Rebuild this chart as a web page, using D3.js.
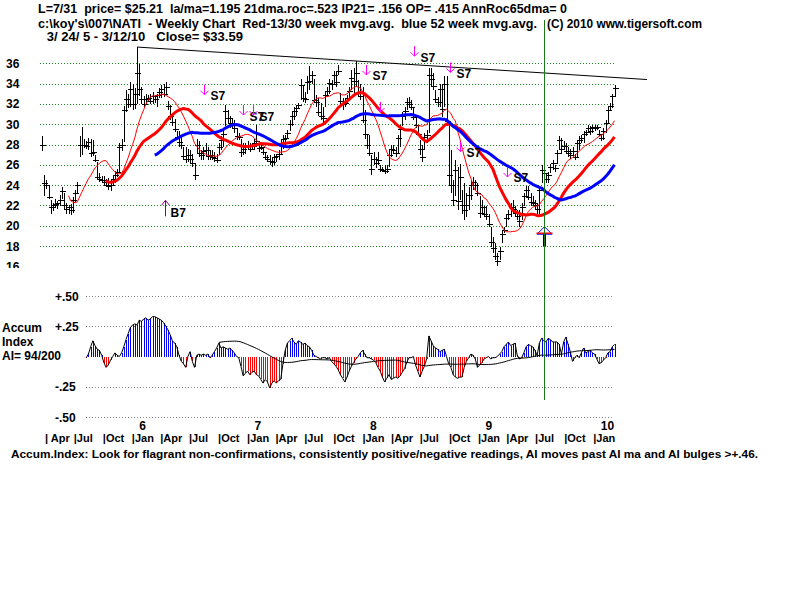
<!DOCTYPE html>
<html>
<head>
<meta charset="utf-8">
<script src="https://cdn.jsdelivr.net/npm/d3@7"></script>
<style>
  body { margin: 0; background: #fff; }
  svg { display: block; }
  text { font-family: "Liberation Sans", Arial, sans-serif; font-weight: bold; fill: #000; white-space: pre; }
</style>
</head>
<body>
<svg id="chart" width="800" height="600"></svg>
<script>
// weekly bars, first week 3/24/05, last 3/12/10
const startDate = "2005-03-24";

const highs = [
  28.8,25.0,24.5,23.9,22.5,22.2,22.6,22.4,23.0,23.8,
  23.2,22.2,22.0,22.1,22.8,23.5,24.3,28.8,29.7,28.5,
  28.3,28.6,28.5,28.4,27.0,26.3,25.2,24.9,24.9,24.6,
  24.7,24.5,25.0,25.4,25.6,28.1,28.5,31.8,33.4,33.0,
  34.2,34.0,33.6,37.6,35.9,33.7,32.8,33.0,32.9,33.0,
  33.2,32.9,33.0,33.6,33.9,34.0,34.2,32.3,31.9,30.8,
  30.5,29.3,29.3,28.7,27.8,27.8,27.6,27.5,27.1,26.2,
  28.5,28.3,27.5,27.8,28.1,27.8,27.5,27.5,27.3,27.1,
  28.1,28.8,29.4,31.9,31.4,30.8,30.6,30.4,29.6,29.1,
  28.5,28.1,28.1,28.3,28.1,28.1,28.5,29.9,28.1,28.1,
  27.8,27.3,27.0,27.0,26.8,27.1,27.1,27.5,28.5,28.9,
  28.9,29.4,30.4,31.2,31.7,31.9,32.1,34.5,33.9,33.2,
  34.7,35.7,35.2,34.5,32.9,32.6,32.1,31.7,33.2,33.7,
  34.5,34.4,35.2,35.2,35.8,33.1,32.6,32.5,32.9,33.7,
  35.3,35.5,36.2,34.4,34.0,33.7,31.4,28.9,28.9,27.0,
  27.3,26.8,27.3,26.0,25.8,26.0,26.0,27.5,28.0,28.0,
  27.8,28.9,29.9,31.2,31.7,32.6,32.7,32.4,31.6,30.9,
  29.9,28.4,28.0,29.1,29.4,35.5,35.5,35.0,33.4,32.7,
  34.0,34.0,34.7,34.7,30.1,27.5,24.5,26.5,25.8,26.1,
  23.5,24.2,23.2,23.8,24.5,24.8,24.5,24.2,22.9,22.5,
  21.9,21.9,21.2,19.9,18.9,18.3,17.3,17.9,19.6,19.9,
  21.2,21.5,22.2,22.5,21.9,21.5,21.5,22.2,23.2,23.9,
  23.9,23.2,22.9,22.5,22.2,23.9,26.0,25.8,25.2,25.3,
  26.1,26.5,26.0,27.5,28.8,28.6,28.3,28.1,27.8,27.6,
  27.8,27.1,28.4,28.8,28.9,29.3,29.4,29.9,29.8,29.9,
  29.9,29.9,29.4,28.9,29.6,30.4,31.7,32.1,33.0,33.9
];
const lows = [
  27.4,22.9,23.6,22.6,21.2,21.4,21.7,21.6,21.9,22.6,
  21.6,21.2,21.2,21.1,21.3,22.3,23.2,26.8,27.0,27.7,
  27.6,27.5,26.8,26.9,26.3,24.5,24.3,24.2,24.0,23.8,
  23.5,23.4,23.9,24.2,24.8,25.3,27.4,28.2,31.2,31.6,
  31.7,31.4,31.5,32.0,32.8,32.0,31.6,32.0,32.2,32.0,
  32.0,32.1,31.7,32.6,32.6,32.7,32.9,31.4,30.4,29.8,
  29.2,28.4,27.8,27.6,26.5,26.2,26.3,26.2,25.8,24.5,
  27.1,26.8,26.5,26.5,26.8,26.5,26.5,26.5,26.3,26.2,
  27.0,27.5,27.8,29.8,30.1,29.6,29.5,29.1,28.4,28.4,
  26.8,27.0,27.1,27.5,27.3,27.5,27.5,27.8,27.3,27.5,
  27.0,26.5,26.3,26.0,25.8,26.0,26.3,26.5,27.1,27.6,
  27.8,28.5,29.3,29.8,30.4,30.8,31.6,32.4,32.2,32.1,
  33.0,33.4,34.0,32.1,31.7,30.8,30.4,30.1,31.7,32.7,
  33.0,33.4,34.0,33.7,34.8,31.9,31.4,31.7,32.1,32.4,
  33.4,33.0,33.7,32.7,32.4,30.1,28.5,27.6,26.9,25.0,
  26.0,25.7,26.0,25.3,25.3,25.1,25.2,25.8,26.8,27.1,
  26.8,27.1,27.8,29.8,30.4,31.4,31.6,31.4,30.4,29.6,
  28.8,27.0,26.3,27.5,28.1,29.1,33.7,33.4,32.1,31.7,
  31.7,30.7,31.7,29.8,23.9,23.2,21.9,22.9,21.5,22.5,
  21.2,20.6,20.9,21.5,22.5,23.5,23.5,22.9,20.8,21.1,
  20.9,20.6,19.9,17.9,17.3,16.6,16.0,16.6,18.3,19.3,
  19.9,20.6,20.9,21.2,20.9,20.6,19.9,20.6,21.9,22.9,
  22.5,21.9,21.9,21.6,21.2,21.2,24.2,24.5,24.2,24.2,
  25.2,25.5,25.3,26.1,27.5,27.1,27.5,27.1,26.8,26.6,
  27.0,26.5,26.8,27.5,28.1,28.1,28.8,29.1,28.9,29.1,
  29.3,29.4,28.8,28.3,28.4,29.1,30.1,31.4,31.6,32.7
];
const closes = [
  28.0,24.2,24.0,22.8,21.8,22.0,22.1,22.2,22.5,23.4,
  22.0,21.6,21.8,21.5,22.5,23.2,24.0,28.0,28.0,28.0,
  27.9,28.2,27.2,27.3,26.5,24.8,24.6,24.5,24.3,24.0,
  23.9,24.0,24.6,25.0,25.3,27.8,28.0,31.4,32.5,32.0,
  33.5,32.0,33.0,35.0,33.5,32.5,32.0,32.5,32.6,32.3,
  32.8,32.5,32.9,33.2,33.5,33.0,33.7,31.8,30.8,30.2,
  29.5,28.7,28.2,28.0,26.9,26.6,27.0,26.6,26.2,25.0,
  28.0,27.2,27.0,27.4,27.5,26.9,27.0,26.8,26.7,26.5,
  27.8,28.4,29.0,31.3,30.6,30.1,29.9,29.6,28.8,28.7,
  27.3,27.6,27.8,27.9,27.6,27.9,28.1,28.3,27.7,27.8,
  27.3,26.8,26.6,26.4,26.3,26.8,26.9,27.1,28.1,28.5,
  28.6,29.1,30.0,30.8,31.3,31.6,31.9,33.9,32.6,32.5,
  34.2,34.3,34.8,32.4,32.2,31.2,30.8,30.6,32.9,33.3,
  34.1,34.0,34.8,34.2,35.2,32.3,32.0,32.1,32.6,33.3,
  34.6,34.3,35.0,33.2,32.8,30.4,29.0,28.0,27.2,25.6,
  26.6,26.2,26.5,25.6,25.5,25.4,25.6,27.0,27.6,27.5,
  27.2,28.6,29.5,30.8,31.3,32.2,32.0,31.7,30.7,29.9,
  29.0,27.6,26.8,28.7,28.9,34.8,34.5,33.8,32.5,32.2,
  33.5,31.5,34.0,30.3,25.0,24.0,22.5,25.5,22.4,24.8,
  22.0,21.5,22.0,23.0,24.0,24.3,24.0,23.2,21.3,21.8,
  21.2,21.0,20.2,18.4,17.8,17.0,16.5,17.5,19.2,19.6,
  20.8,21.2,21.8,21.6,21.3,21.0,20.5,21.8,22.9,23.5,
  22.8,22.3,22.2,22.0,21.6,23.5,25.5,25.2,24.6,25.0,
  25.8,26.2,25.7,27.2,28.4,27.6,27.9,27.4,27.2,27.0,
  27.4,26.8,28.1,28.4,28.6,29.0,29.2,29.6,29.3,29.7,
  29.6,29.7,29.0,28.6,29.3,30.1,31.4,31.8,32.8,33.59
];

// Accumulation index, one value a week from week 20 on
const aiFirstWeek = 20;
const accum = [
  -0.01,0.02,0.08,0.13,0.09,0.06,0.05,0.01,-0.05,-0.09,
  -0.07,-0.03,0.00,0.03,0.01,0.00,0.03,0.08,0.14,0.19,
  0.24,0.26,0.27,0.26,0.30,0.29,0.31,0.32,0.30,0.31,
  0.33,0.33,0.32,0.31,0.30,0.28,0.25,0.22,0.18,0.13,
  0.11,0.08,0.01,-0.04,-0.06,-0.09,0.00,0.04,-0.04,-0.09,
  0.01,0.02,0.01,0.02,0.01,0.02,-0.01,0.01,0.04,0.07,
  0.11,0.07,0.08,0.07,0.06,0.07,0.05,0.03,0.00,-0.01,
  -0.08,-0.16,-0.14,-0.12,-0.15,-0.13,-0.12,-0.15,-0.16,-0.19,
  -0.22,-0.19,-0.21,-0.26,-0.22,-0.20,-0.22,-0.20,-0.19,-0.06,
  0.05,0.11,0.13,0.15,0.12,0.10,0.13,0.12,0.10,0.11,
  0.09,0.08,0.05,0.01,0.00,-0.01,-0.02,-0.01,-0.01,-0.02,
  -0.01,-0.04,-0.06,-0.08,-0.11,-0.15,-0.18,-0.21,-0.17,-0.12,
  -0.08,-0.05,-0.02,0.00,0.03,0.05,0.02,-0.01,-0.01,-0.02,
  -0.03,-0.05,-0.09,-0.12,-0.17,-0.21,-0.18,-0.15,-0.19,-0.18,
  -0.17,-0.18,-0.16,-0.13,-0.10,-0.05,-0.01,-0.01,0.00,-0.07,
  -0.12,-0.17,-0.12,-0.08,-0.02,0.17,0.13,0.09,0.07,0.06,
  0.04,0.05,0.06,0.00,-0.06,-0.09,-0.15,-0.17,-0.18,-0.17,
  -0.17,-0.09,-0.04,-0.01,0.02,0.01,-0.02,-0.09,-0.07,-0.05,
  -0.02,-0.01,0.00,-0.02,-0.01,-0.01,0.00,0.02,0.04,0.08,
  0.10,0.12,0.09,0.10,0.11,0.01,-0.02,-0.01,0.03,0.08,
  0.10,0.09,0.08,0.05,0.01,0.11,0.15,0.13,0.12,0.15,
  0.14,0.12,0.12,0.12,0.10,0.02,0.12,0.16,0.10,0.04,
  -0.04,-0.01,0.01,-0.01,0.03,0.07,0.03,0.04,0.05,0.03,
  0.02,-0.02,-0.06,-0.05,-0.03,-0.01,0.03,0.04,0.08,0.10
];
const aiMaFromWeek = 80;

const priceTicks = [36, 34, 32, 30, 28, 26, 24, 22, 20, 18, 16];
const aiTicks = [0.5, 0.25, -0.25, -0.5];
const aiTickLabels = ["+.50", "+.25", "-.25", "-.50"];

const quarterDates = ["2005-04-01","2005-07-01","2005-10-01","2006-01-01","2006-04-01","2006-07-01","2006-10-01",
  "2007-01-01","2007-04-01","2007-07-01","2007-10-01","2008-01-01","2008-04-01","2008-07-01","2008-10-01",
  "2009-01-01","2009-04-01","2009-07-01","2009-10-01","2010-01-01"];
const quarterNames = ["| Apr","|Jul","|Oct","|Jan","|Apr","|Jul","|Oct","|Jan","|Apr","|Jul","|Oct",
  "|Jan","|Apr","|Jul","|Oct","|Jan","|Apr","|Jul","|Oct","|Jan"];
const yearDates = ["2006-01-01","2007-01-01","2008-01-01","2009-01-01","2010-01-01"];
const yearNames = ["6", "7", "8", "9", "10"];

const signalDates = ["2006-04-18","2006-08-19","2006-12-21","2007-01-21","2008-01-13","2008-02-27",
  "2008-06-13","2008-10-05","2008-11-06","2009-04-04"];
const signalPrices = [22.5, 32.9, 30.9, 30.9, 34.85, 31.2, 36.7, 35.1, 27.3, 24.8];
const signalLabels = ["B7","S7","S7","S7","S7","","S7","S7","S7","S7"];

const trendDates = ["2006-01-19", "2010-06-22"];
const trendPrices = [37.6, 34.4];

const markerDate = "2009-07-31";
const markerPrice = 19.9;

const headerLines = [
  "L=7/31  price= $25.21  la/ma=1.195 21dma.roc=.523 IP21= .156 OP= .415 AnnRoc65dma= 0",
  "c:\\koy's\\007\\NATI  - Weekly Chart  Red-13/30 week mvg.avg.  blue 52 week mvg.avg.",
  "(C) 2010 www.tigersoft.com",
  " 3/ 24/ 5 - 3/12/10   Close= $33.59"
];
const footer = "Accum.Index: Look for flagrant non-confirmations, consistently positive/negative readings, AI moves past AI ma and AI bulges >+.46.";

// ---------------------------------------------------------------
const parseDate = d3.timeParse("%Y-%m-%d");
const t0 = parseDate(startDate);
const weeks = closes.map((c, i) => d3.timeWeek.offset(t0, i));

const svg = d3.select("#chart");

const x = d3.scaleTime()
  .domain([weeks[0], weeks[weeks.length - 1]])
  .range([42, 614.5]);
const y = d3.scaleLinear().domain([18, 36]).range([246, 63.3]);
const yAI = d3.scaleLinear().domain([-0.5, 0.5]).range([417, 296]);

const px = d => Math.round(x(d)) + 0.5;

function movingAvg(vals, n) {
  return vals.map((v, i) => i < n - 1 ? null : d3.mean(vals.slice(i - n + 1, i + 1)));
}

// header
const hdr = [[38, 12.5, 529], [38, 28, 499], [547, 28, 155], [43, 41, 200]];
headerLines.forEach((t, i) => {
  svg.append("text")
    .attr("x", hdr[i][0]).attr("y", hdr[i][1])
    .attr("textLength", hdr[i][2]).attr("lengthAdjust", "spacingAndGlyphs")
    .style("font-size", i === 3 ? "12px" : "12.5px")
    .text(t);
});

// price grid
svg.append("g")
  .selectAll("line")
  .data(priceTicks.filter(d => d >= 18))
  .join("line")
  .attr("x1", 40).attr("x2", 615)
  .attr("y1", d => Math.round(y(d)) + 0.5).attr("y2", d => Math.round(y(d)) + 0.5)
  .attr("stroke", "#1f8a1f").attr("stroke-dasharray", "1,2");

svg.append("clipPath").attr("id", "lblclip")
  .append("rect").attr("x", 0).attr("y", 0).attr("width", 800).attr("height", 268);

svg.append("g").attr("clip-path", "url(#lblclip)")
  .selectAll("text")
  .data(priceTicks)
  .join("text")
  .attr("x", 6).attr("y", d => y(d) + 4.5)
  .style("font-size", "12px")
  .text(d => d);

// price bars
const bars = svg.append("g").attr("stroke", "#000").attr("stroke-width", 1).attr("shape-rendering", "crispEdges");
weeks.forEach((d, i) => {
  const xi = px(d);
  bars.append("line").attr("x1", xi).attr("x2", xi).attr("y1", y(highs[i])).attr("y2", y(lows[i]));
  const yc = Math.round(y(closes[i])) + 0.5;
  bars.append("line").attr("x1", xi - 2.5).attr("x2", xi + 3).attr("y1", yc).attr("y2", yc);
});

// moving averages
const ma13 = movingAvg(closes, 13);
const ma30 = movingAvg(closes, 30);
const ma52 = movingAvg(closes, 52);
const maLine = vals => d3.line()
  .defined((d, i) => vals[i] != null)
  .x((d, i) => x(weeks[i]))
  .y((d, i) => y(vals[i]));

svg.append("path").datum(weeks).attr("d", maLine(ma13))
  .attr("fill", "none").attr("stroke", "#ff0000").attr("stroke-width", 1);
svg.append("path").datum(weeks).attr("d", maLine(ma30))
  .attr("fill", "none").attr("stroke", "#ff0000").attr("stroke-width", 3);
svg.append("path").datum(weeks).attr("d", maLine(ma52))
  .attr("fill", "none").attr("stroke", "#0000ff").attr("stroke-width", 3);

// trendline
svg.append("line")
  .attr("x1", x(parseDate(trendDates[0]))).attr("y1", y(trendPrices[0]))
  .attr("x2", x(parseDate(trendDates[1]))).attr("y2", y(trendPrices[1]))
  .attr("stroke", "#000").attr("stroke-width", 1);

// signals
signalDates.forEach((s, i) => {
  const sx = Math.round(x(parseDate(s))) + 0.5;
  const ty = y(signalPrices[i]);
  if (signalLabels[i] === "B7") {
    const g = svg.append("g").attr("stroke", "#800080").attr("fill", "none");
    g.append("line").attr("x1", sx).attr("x2", sx).attr("y1", ty).attr("y2", ty + 16);
    g.append("polyline").attr("points", `${sx - 4},${ty + 5} ${sx},${ty} ${sx + 4},${ty + 5}`);
    svg.append("text").attr("x", sx + 5).attr("y", ty + 17).style("font-size", "12px").text(signalLabels[i]);
  } else {
    const g = svg.append("g").attr("stroke", "#ff00ff").attr("fill", "none");
    g.append("line").attr("x1", sx).attr("x2", sx).attr("y1", ty - 10).attr("y2", ty);
    g.append("polyline").attr("points", `${sx - 4},${ty - 4} ${sx},${ty} ${sx + 4},${ty - 4}`);
    if (signalLabels[i]) {
      svg.append("text").attr("x", sx + 6).attr("y", ty + 5.5).style("font-size", "12px").text(signalLabels[i]);
    }
  }
});

// marker at L date
const mx = Math.round(x(parseDate(markerDate))) + 0.5;
const my = y(markerPrice);
svg.append("rect").attr("x", mx - 1.5).attr("y", my + 7).attr("width", 3).attr("height", 13).attr("fill", "#000");
svg.append("polygon")
  .attr("points", `${mx},${my} ${mx - 7.5},${my + 7.5} ${mx + 7.5},${my + 7.5}`)
  .attr("fill", "none").attr("stroke", "#0000ff");
svg.append("line").attr("x1", mx - 8).attr("x2", mx + 8).attr("y1", my + 6.5).attr("y2", my + 6.5)
  .attr("stroke", "#ff0000").attr("stroke-width", 1.5);

// Accum index panel
aiTicks.forEach((t, i) => {
  const yy = Math.round(yAI(t)) + 0.5;
  svg.append("line").attr("x1", 86).attr("x2", 613).attr("y1", yy).attr("y2", yy)
    .attr("stroke", "#777").attr("stroke-dasharray", "1,5");
  svg.append("line").attr("x1", 89).attr("x2", 613).attr("y1", yy).attr("y2", yy)
    .attr("stroke", "#d070b0").attr("stroke-dasharray", "1,5");
  svg.append("text").attr("x", 55).attr("y", yAI(t) + 4.5).style("font-size", "12px").text(aiTickLabels[i]);
});

["Accum", "Index", "AI= 94/200"].forEach((t, i) => {
  svg.append("text").attr("x", 2).attr("y", 332 + i * 14).style("font-size", "12px").text(t);
});

const aiWeeks = accum.map((v, i) => weeks[i + aiFirstWeek]);
const hatch = svg.append("g").attr("shape-rendering", "crispEdges");
accum.forEach((v, i) => {
  if (v === 0) return;
  const xi = px(aiWeeks[i]);
  hatch.append("line").attr("x1", xi).attr("x2", xi)
    .attr("y1", yAI(0)).attr("y2", yAI(v))
    .attr("stroke", v > 0 ? "#0000ff" : "#ff0000");
});
svg.append("path").datum(accum)
  .attr("d", d3.line().x((d, i) => x(aiWeeks[i])).y(d => yAI(d)))
  .attr("fill", "none").attr("stroke", "#000").attr("stroke-width", 1);

const aiMa = movingAvg(accum, 52);
svg.append("path").datum(accum)
  .attr("d", d3.line()
    .defined((d, i) => i + aiFirstWeek >= aiMaFromWeek && aiMa[i] != null)
    .x((d, i) => x(aiWeeks[i])).y((d, i) => yAI(aiMa[i])))
  .attr("fill", "none").attr("stroke", "#000").attr("stroke-width", 1);

// time labels
yearDates.forEach((d, i) => {
  svg.append("text").attr("x", x(parseDate(d)) + 8).attr("y", 430)
    .style("font-size", "12px").text(yearNames[i]);
});
quarterDates.forEach((d, i) => {
  svg.append("text").attr("x", x(parseDate(d)) + 0.5).attr("y", 441.5)
    .style("font-size", "11px").text(quarterNames[i]);
});

svg.append("text").attr("x", 11).attr("y", 457.5)
  .attr("textLength", 747).attr("lengthAdjust", "spacingAndGlyphs")
  .style("font-size", "11.5px").text(footer);

// green line at L=7/31
svg.append("line").attr("x1", mx).attr("x2", mx).attr("y1", 20).attr("y2", 400)
  .attr("stroke", "#1a7a1a").attr("stroke-width", 1);
</script>
</body>
</html>
